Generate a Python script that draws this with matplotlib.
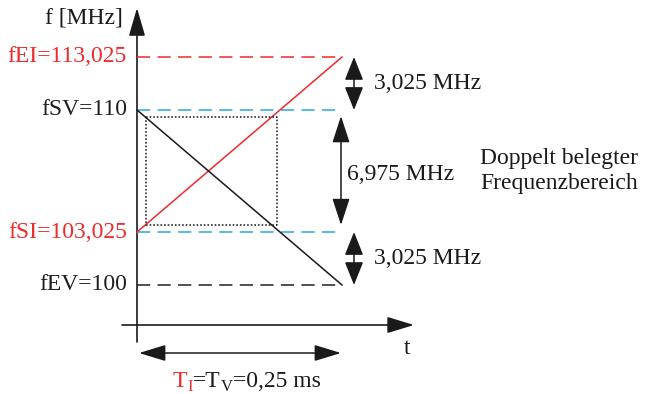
import matplotlib.pyplot as plt
from matplotlib.patches import FancyArrowPatch

plt.rcParams['font.family'] = ['Liberation Serif', 'DejaVu Serif']
plt.rcParams['lines.scale_dashes'] = False

# Frequenzen [MHz] und Sweepdauer [ms]
T = 0.25
f_names = ["fEI", "fSV", "fSI", "fEV"]
f_values = [113.025, 110.0, 103.025, 100.0]
f_label_colors = ["#ee2a2a", "#1f1f1f", "#ee2a2a", "#1f1f1f"]
f_line_colors = ["#ee2a2a", "#2aa7e0", "#2aa7e0", "#1f1f1f"]
fEI, fSV, fSI, fEV = f_values

RED = "#ee2a2a"
BLACK = "#1a1a1a"
DPI = 100

# Bildpunkte -> Datenkoordinaten (Layout)
X0, X1 = 137, 342      # t = 0 ... T
Y0, Y1 = 285, 57       # fEV ... fEI
sx = (X1 - X0) / T
sy = (Y0 - Y1) / (fEI - fEV)


def px(x):
    return (x - X0) / sx


def py(y):
    return fEV + (Y0 - y) / sy


def fmt(v):
    s = f"{v:.3f}".rstrip("0").rstrip(".")
    return s.replace(".", ",")


def arrow(ax, p0, p1, style, hl, hw, lw=1.1):
    a = FancyArrowPatch(p0, p1, arrowstyle=f"{style},head_length={hl},head_width={hw}",
                        mutation_scale=72 / DPI, shrinkA=0, shrinkB=0,
                        color=BLACK, lw=lw)
    ax.add_patch(a)


fig = plt.figure(figsize=(6.45, 3.94), dpi=DPI)
ax = fig.add_axes([0, 0, 1, 1])
ax.set_xlim(px(0), px(645))
ax.set_ylim(py(394), py(0))
ax.axis("off")

# Achsen
arrow(ax, (0, py(342)), (0, py(8)), "-|>", 24, 7, lw=1.2)
arrow(ax, (px(122), py(325)), (px(414), py(325)), "-|>", 23, 7, lw=1.2)
ax.text(px(123), py(18), "f [MHz]", ha="right", va="center", fontsize=17, color=BLACK)
ax.text(px(404), py(348), "t", ha="left", va="center", fontsize=17, color=BLACK)

# Frequenzlinien und Beschriftungen
for name, val, lc, tc in zip(f_names, f_values, f_line_colors, f_label_colors):
    ax.plot([0, T], [val, val], color=lc, lw=1.1, linestyle=(0, (9.5, 5.3)))
    ax.text(px(127), val, f"{name}={fmt(val)}", ha="right", va="center",
            fontsize=17, color=tc)

# Sweeps
ax.plot([0, T], [fSI, fEI], color=RED, lw=1.1)
ax.plot([0, T], [fSV, fEV], color=BLACK, lw=1.1)

# doppelt belegter Bereich (gepunktet)
t_cross = T * (fSV - fSI) / (fEI - fSI)
rx0, rx1 = px(146), t_cross - px(140)
ry0, ry1 = fSI + 0.4, fSV - 0.4
ax.plot([rx0, rx1, rx1, rx0, rx0], [ry1, ry1, ry0, ry0, ry1],
        color=BLACK, lw=1.1, linestyle=(0, (1.2, 1.4)))

# Abstandspfeile
arrow(ax, (px(354), fEI), (px(354), fSV), "<|-|>", 20, 8)
arrow(ax, (px(341), fSV - 0.35), (px(341), fSI + 0.4), "<|-|>", 23, 7.5)
arrow(ax, (px(354), fSI), (px(354), fEV), "<|-|>", 20, 8)

ax.text(px(374), (fEI + fSV) / 2, f"{fmt(fEI - fSV)} MHz", ha="left", va="center",
        fontsize=17, color=BLACK)
ax.text(px(347), (fSV + fSI) / 2 - 0.2, f"{fmt(fSV - fSI)} MHz", ha="left", va="center",
        fontsize=17, color=BLACK)
ax.text(px(374), (fSI + fEV) / 2, f"{fmt(fSI - fEV)} MHz", ha="left", va="center",
        fontsize=17, color=BLACK)
ax.text(px(480), (fSV + fSI) / 2, "Doppelt belegter\nFrequenzbereich", ha="left",
        va="center", fontsize=17, color=BLACK, linespacing=1.25)

# Sweepdauer
arrow(ax, (px(139), py(353)), (px(341), py(353)), "<|-|>", 23, 7)
t1 = ax.text(px(173), py(387), "T", ha="left", va="baseline", fontsize=17, color=RED)
t2 = ax.annotate("I", xy=(1, 0), xycoords=t1, xytext=(0, -2), textcoords="offset points",
                 ha="left", va="bottom", fontsize=12, color=RED)
t3 = ax.annotate("=T", xy=(1, 0), xycoords=(t2, t1), ha="left", va="bottom",
                 fontsize=17, color=BLACK)
t4 = ax.annotate("V", xy=(1, 0), xycoords=t3, xytext=(0, -2), textcoords="offset points",
                 ha="left", va="bottom", fontsize=12, color=BLACK)
ax.annotate(f"={fmt(T)} ms", xy=(1, 0), xycoords=(t4, t3), ha="left", va="bottom",
            fontsize=17, color=BLACK)

fig.savefig("out.png", dpi=DPI)
